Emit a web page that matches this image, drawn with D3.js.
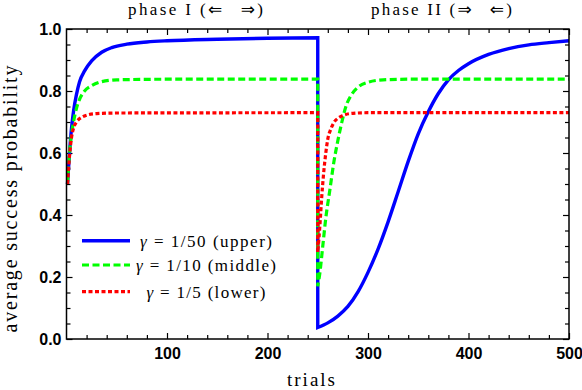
<!DOCTYPE html>
<html>
<head>
<meta charset="utf-8">
<script src="https://cdn.jsdelivr.net/npm/d3@7"></script>
<style>
body { margin: 0; background: #fff; }
</style>
</head>
<body>
<svg width="582" height="390"></svg>
<script>
// values: [trial, average success probability]
var blue1 = [[1,0.50],[3,0.60],[5,0.68],[7,0.735],[10,0.79],[13,0.83],[18,0.865],[25,0.897],[35,0.925],[45,0.94],[60,0.951],[80,0.958],[100,0.962],[150,0.967],[200,0.970],[250,0.972]];
var blue2 = [[250,0.037],[260,0.052],[270,0.074],[280,0.105],[290,0.152],[300,0.215],[310,0.290],[320,0.378],[330,0.475],[340,0.573],[350,0.662],[360,0.733],[370,0.792],[380,0.836],[390,0.866],[400,0.888],[420,0.918],[440,0.937],[460,0.949],[480,0.956],[500,0.962]];
var green1 = [[1,0.50],[3,0.60],[5,0.66],[7,0.70],[10,0.745],[13,0.773],[18,0.80],[25,0.817],[35,0.83],[50,0.836],[100,0.838],[250,0.838]];
var green2 = [[250,0.17],[252,0.21],[255,0.30],[258,0.39],[262,0.48],[266,0.57],[270,0.64],[274,0.70],[278,0.75],[283,0.785],[290,0.812],[300,0.828],[315,0.836],[340,0.838],[500,0.838]];
var red1 = [[1,0.50],[3,0.59],[5,0.65],[7,0.68],[10,0.70],[15,0.715],[20,0.722],[30,0.727],[50,0.729],[250,0.730]];
var red2 = [[250,0.28],[252,0.36],[254,0.46],[256,0.54],[258,0.60],[260,0.645],[263,0.677],[266,0.698],[270,0.712],[275,0.721],[285,0.728],[300,0.730],[500,0.730]];

var legendLabels = ["1/50 (upper)", "1/10 (middle)", "1/5 (lower)"];
var xMajor = [100, 200, 300, 400, 500];
var yMajor = [0, 0.2, 0.4, 0.6, 0.8, 1.0];

var svg = d3.select("svg");
var L = 66.5, R = 569, T = 29, B = 339;

var x = d3.scaleLinear().domain([0, 500]).range([L, R]);
var y = d3.scaleLinear().domain([0, 1]).range([B, T]);

var xMinor = d3.range(20, 500, 20).filter(function(v) { return v % 100 != 0; });
var yMinor = d3.range(0.05, 1, 0.05).filter(function(v) { return Math.abs(v * 5 - Math.round(v * 5)) > 1e-6; });

// axes, ticks pointing inward on all 4 sides
var g = svg.append("g").attr("class", "axes");
g.append("g").attr("transform", "translate(0," + B + ")")
    .call(d3.axisBottom(x).tickValues(xMinor).tickSize(-4).tickFormat(""));
g.append("g").attr("transform", "translate(0," + B + ")")
    .call(d3.axisBottom(x).tickValues(xMajor).tickSize(-6).tickPadding(9).tickFormat(d3.format("d")));
g.append("g").attr("transform", "translate(0," + T + ")")
    .call(d3.axisTop(x).tickValues(xMinor).tickSize(-4).tickFormat(""));
g.append("g").attr("transform", "translate(0," + T + ")")
    .call(d3.axisTop(x).tickValues(xMajor).tickSize(-6).tickFormat(""));
g.append("g").attr("transform", "translate(" + L + ",0)")
    .call(d3.axisLeft(y).tickValues(yMinor).tickSize(-4).tickFormat(""));
g.append("g").attr("transform", "translate(" + L + ",0)")
    .call(d3.axisLeft(y).tickValues(yMajor).tickSize(-6).tickPadding(5).tickFormat(d3.format(".1f")));
g.append("g").attr("transform", "translate(" + R + ",0)")
    .call(d3.axisRight(y).tickValues(yMinor).tickSize(-4).tickFormat(""));
g.append("g").attr("transform", "translate(" + R + ",0)")
    .call(d3.axisRight(y).tickValues(yMajor).tickSize(-6).tickFormat(""));

g.selectAll(".domain").remove();
g.selectAll(".tick line").attr("stroke", "#000").attr("stroke-width", 1.2);
g.selectAll(".tick text")
    .attr("fill", "#000")
    .style("font-family", "'Liberation Sans', Arial, sans-serif")
    .style("font-weight", "bold")
    .style("font-size", "16px");

// curves
var line = d3.line()
    .x(function(d) { return x(d[0]); })
    .y(function(d) { return y(d[1]); })
    .curve(d3.curveMonotoneX);

function joined(a, b) {
    // phase I then a vertical jump into phase II, one path so the dashes run on
    return line(a) + line(b).replace(/^M/, "L");
}

var series = [
    { p1: blue1, p2: blue2, color: "#0000ff", width: 3.4, dash: null },
    { p1: green1, p2: green2, color: "#00ff00", width: 3.2, dash: "7,3.5" },
    { p1: red1, p2: red2, color: "#ff0000", width: 3.2, dash: "4,2.5" }
];

svg.append("g").selectAll("path")
    .data(series)
    .join("path")
    .attr("d", function(d) { return joined(d.p1, d.p2); })
    .attr("fill", "none")
    .attr("stroke", function(d) { return d.color; })
    .attr("stroke-width", function(d) { return d.width; })
    .attr("stroke-dasharray", function(d) { return d.dash; });

// frame
svg.append("rect")
    .attr("x", L).attr("y", T)
    .attr("width", R - L).attr("height", B - T)
    .attr("fill", "none").attr("stroke", "#000").attr("stroke-width", 1.5);

// legend
var serif = "'Liberation Serif', 'Times New Roman', serif";
var legRows = [240.7, 265, 291.7];
var legWidths = [132, 140, 119];
var leg = svg.append("g").selectAll("g")
    .data(series)
    .join("g")
    .attr("transform", function(d, i) { return "translate(0," + legRows[i] + ")"; });
leg.append("line")
    .attr("x1", 82).attr("x2", 130)
    .attr("stroke", function(d) { return d.color; })
    .attr("stroke-width", function(d) { return d.width; })
    .attr("stroke-dasharray", function(d) { return d.dash; });
var lt = leg.append("text")
    .attr("x", 206).attr("y", 6)
    .attr("text-anchor", "middle")
    .attr("textLength", function(d, i) { return legWidths[i]; })
    .attr("lengthAdjust", "spacing")
    .style("font-family", serif)
    .style("font-size", "17px");
lt.append("tspan").style("font-style", "italic").text("γ");
lt.append("tspan").text(function(d, i) { return " = " + legendLabels[i]; });

// phase titles
var arrowFont = "'DejaVu Sans', sans-serif";
function phaseTitle(cx, label, a1, a2, w) {
    var t = svg.append("text")
        .attr("x", cx).attr("y", 15)
        .attr("text-anchor", "middle")
        .attr("textLength", w)
        .attr("lengthAdjust", "spacing")
        .style("font-family", serif)
        .style("font-size", "17px");
    t.append("tspan").text(label + " (");
    t.append("tspan").style("font-family", arrowFont).style("font-size", "17px").text(a1);
    t.append("tspan").attr("dx", 16).style("font-family", arrowFont).style("font-size", "17px").text(a2);
    t.append("tspan").text(")");
}
phaseTitle(195.5, "phase I", "\u21D0", "\u21D2", 135);
phaseTitle(441.5, "phase II", "\u21D2", "\u21D0", 141);

// axis titles
svg.append("text")
    .attr("x", 311).attr("y", 386)
    .attr("text-anchor", "middle")
    .attr("textLength", 48)
    .attr("lengthAdjust", "spacing")
    .style("font-family", serif)
    .style("font-size", "19px")
    .text("trials");

svg.append("text")
    .attr("transform", "translate(17,199) rotate(-90)")
    .attr("text-anchor", "middle")
    .attr("textLength", 267)
    .attr("lengthAdjust", "spacing")
    .style("font-family", serif)
    .style("font-size", "20px")
    .text("average success probability");
</script>
</body>
</html>
